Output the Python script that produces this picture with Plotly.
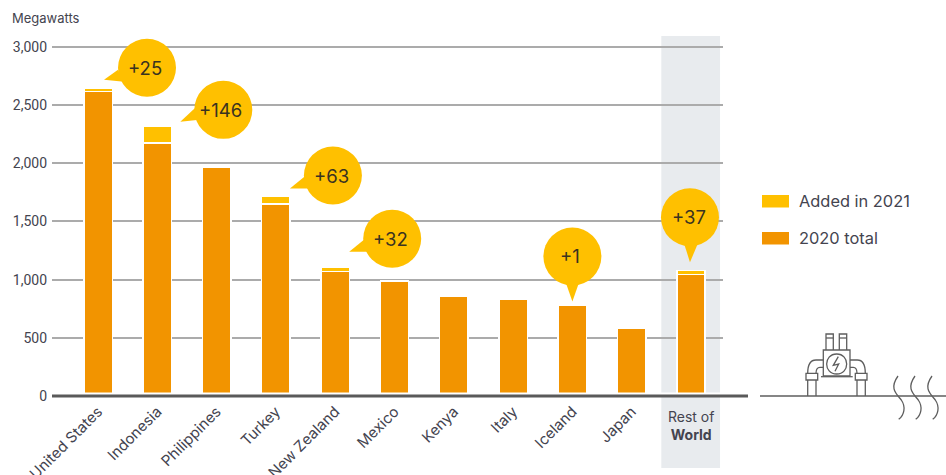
import plotly.graph_objects as go

categories = ["United States", "Indonesia", "Philippines", "Turkey", "New Zealand",
              "Mexico", "Kenya", "Italy", "Iceland", "Japan", "Rest of World"]
total_2020 = [2615, 2175, 1968, 1651, 1070, 985, 854, 829, 777, 585, 1043]
added_2021 = [25, 146, 4, 63, 32, 4, 2, 3, 1, 1, 37]
callouts = {"United States": "+25", "Indonesia": "+146", "Turkey": "+63",
            "New Zealand": "+32", "Iceland": "+1", "Rest of World": "+37"}
y_ticks = [0, 500, 1000, 1500, 2000, 2500, 3000]
legend_labels = ["Added in 2021", "2020 total"]

YELLOW, ORANGE, TEXT = "#FFC000", "#F29400", "#44444F"
FONT = "Inter"
W, H = 946, 475
L, R, T, B = 52, 723, 36, 396

# bubble centre, tail, text nudge, in pixels relative to top of the bar (x right, y up)
bubble_geom = {
    "United States": ((49, 21), [(6, 9), (20, 19), (26, 7)], -2),
    "Indonesia": ((66, 16), [(23, 4), (38, 18), (42, 6)], -3),
    "Turkey": ((57, 21), [(14, 8), (30, 21), (35, 8)], -1),
    "New Zealand": ((57, 29), [(14, 16), (30, 29), (35, 16)], -2),
    "Iceland": ((0, 49), [(0, 4), (-7, 24), (7, 24)], -2),
    "Rest of World": ((-1, 53), [(-1, 8), (-7, 27), (7, 27)], -1),
}

fig = go.Figure()
fig.add_bar(x=categories, y=total_2020, name=legend_labels[1], showlegend=False,
            marker=dict(color=ORANGE, line=dict(color="white", width=1.5)))
fig.add_bar(x=categories, y=added_2021, name=legend_labels[0], showlegend=False,
            marker=dict(color=YELLOW, line=dict(color="white", width=1.5)))

shapes, annotations = [], []

def px(x):
    return (x - L) / (R - L)

def py(y):
    return (B - y) / (B - T)

# grey band behind Rest of World
shapes.append(dict(type="rect", xref="x", yref="paper", x0=9.5, x1=10.49,
                   y0=py(468), y1=py(36),
                   fillcolor="#E8EBEE", line_width=0, layer="below"))

# baseline
shapes.append(dict(type="rect", xref="paper", yref="paper", x0=0, x1=px(748),
                   y0=py(396), y1=py(392.5),
                   fillcolor="white", line_width=0, layer="above"))
shapes.append(dict(type="line", xref="paper", yref="paper", x0=0, x1=px(748),
                   y0=0, y1=0, line=dict(color="#5A5A5A", width=3), layer="above"))

# callouts, anchored to the bars
for cat, text in callouts.items():
    i = categories.index(cat)
    top = total_2020[i] + added_2021[i]
    (cx, cy), tail, nudge = bubble_geom[cat]
    r = 29
    shapes.append(dict(type="circle", xref="x", yref="y", xsizemode="pixel", ysizemode="pixel",
                       xanchor=cat, yanchor=top, x0=cx - r, x1=cx + r, y0=cy - r, y1=cy + r,
                       fillcolor=YELLOW, line_width=0, layer="above"))
    path = "M{},{} L{},{} L{},{} Z".format(*[v for p in tail for v in p])
    shapes.append(dict(type="path", xref="x", yref="y", xsizemode="pixel", ysizemode="pixel",
                       xanchor=cat, yanchor=top, path=path,
                       fillcolor=YELLOW, line_width=0, layer="above"))
    annotations.append(dict(x=cat, y=top, xref="x", yref="y", text=text, showarrow=False,
                            xshift=cx + nudge, yshift=cy,
                            font=dict(family=FONT, size=18.5, color="#3A3320")))

# legend
for label, color, yc in zip(legend_labels, [YELLOW, ORANGE], [201, 238]):
    shapes.append(dict(type="rect", xref="paper", yref="paper", x0=px(762), x1=px(789),
                       y0=py(yc + 6.5), y1=py(yc - 6), fillcolor=color, line_width=0))
    annotations.append(dict(xref="paper", yref="paper", x=px(799), y=py(yc), text=label,
                            showarrow=False, xanchor="left", yanchor="middle", xshift=-2,
                            font=dict(family=FONT, size=16.4, color=TEXT)))

# decorative plant icon, traced in reference pixels via a 3x grid
def z(x, y):
    return x / 3 + 746 - R, B - (y / 3 + 180)

def poly(points, closed=False):
    s = ""
    for cmd, *coords in points:
        parts = []
        for j in range(0, len(coords), 2):
            a, b = z(coords[j], coords[j + 1])
            parts.append(f"{a:.1f},{b:.1f}")
        s += cmd + " ".join(parts) + " "
    return s + ("Z" if closed else "")

icon_paths = [
    poly([("M", 42, 648), ("L", 600, 648)]),
    poly([("M", 232, 510), ("L", 312, 510), ("L", 312, 588), ("L", 232, 588)], True),
    poly([("M", 225, 590), ("L", 320, 590)]),
    poly([("M", 240, 510), ("L", 240, 462), ("L", 262, 462), ("L", 262, 510)]),
    poly([("M", 280, 510), ("L", 280, 462), ("L", 302, 462), ("L", 302, 510)]),
    poly([("M", 240, 474), ("L", 262, 474)]),
    poly([("M", 280, 474), ("L", 302, 474)]),
    poly([("M", 232, 540), ("L", 210, 540), ("Q", 185, 540, 185, 580)]),
    poly([("M", 232, 562), ("L", 222, 562), ("Q", 210, 562, 210, 580)]),
    poly([("M", 180, 580), ("L", 215, 580), ("L", 215, 600), ("L", 180, 600)], True),
    poly([("M", 185, 600), ("L", 185, 648)]),
    poly([("M", 210, 600), ("L", 210, 648)]),
    poly([("M", 312, 540), ("L", 334, 540), ("Q", 358, 540, 358, 580)]),
    poly([("M", 312, 562), ("L", 322, 562), ("Q", 333, 562, 333, 580)]),
    poly([("M", 328, 580), ("L", 363, 580), ("L", 363, 600), ("L", 328, 600)], True),
    poly([("M", 333, 600), ("L", 333, 648)]),
    poly([("M", 358, 600), ("L", 358, 648)]),
    poly([("M", 277, 530), ("L", 262, 556), ("L", 278, 552), ("L", 267, 574)]),
    poly([("M", 272, 522), ("C", 232, 522, 232, 582, 272, 582), ("C", 312, 582, 312, 522, 272, 522)]),
]
for dx in (0, 51, 102):
    icon_paths.append(poly([("M", 456 + dx, 588), ("C", 430 + dx, 625, 450 + dx, 640, 466 + dx, 660),
                            ("C", 480 + dx, 680, 475 + dx, 705, 458 + dx, 718)]))
for p in icon_paths:
    shapes.append(dict(type="path", xref="paper", yref="paper", xsizemode="pixel", ysizemode="pixel",
                       xanchor=1, yanchor=0, path=p, line=dict(color="#5E5E5E", width=1.3),
                       layer="above"))

# text outside the axes
annotations.append(dict(xref="paper", yref="paper", x=px(12), y=py(18), xshift=-2,
                        text="Megawatts", showarrow=False, xanchor="left", yanchor="middle",
                        font=dict(family=FONT, size=13, color=TEXT)))
annotations.append(dict(x="Rest of World", xref="x", yref="paper", y=py(425.5),
                        text="Rest of<br><b>World</b>", showarrow=False, yanchor="middle",
                        font=dict(family=FONT, size=14, color=TEXT)))

fig.update_layout(
    width=W, height=H, barmode="stack", bargap=0.52, showlegend=False,
    margin=dict(l=L, r=W - R, t=T, b=H - B, autoexpand=False),
    paper_bgcolor="white", plot_bgcolor="rgba(0,0,0,0)",
    font=dict(family=FONT, color=TEXT, size=13),
    shapes=shapes, annotations=annotations,
    xaxis=dict(type="category", categoryorder="array", categoryarray=categories,
               range=[-0.776, 10.54], tickmode="array", tickvals=categories[:-1],
               ticktext=categories[:-1], tickangle=-45, showgrid=False, showline=False,
               ticks="", ticklen=0, automargin=False, ticklabelstandoff=3,
               tickfont=dict(family=FONT, size=15, color=TEXT)),
    yaxis=dict(range=[0, 3093], tickmode="array", tickvals=y_ticks, tickformat=",d",
               showgrid=True, gridcolor="#ABABAB", gridwidth=1.5, zeroline=False, showline=False,
               ticks="", automargin=False, ticklabelstandoff=4,
               tickfont=dict(family="Roboto", size=14, color=TEXT)),
)
fig.write_html("out.html", config={"displayModeBar": False},
               post_script="document.body.style.margin='0';")
